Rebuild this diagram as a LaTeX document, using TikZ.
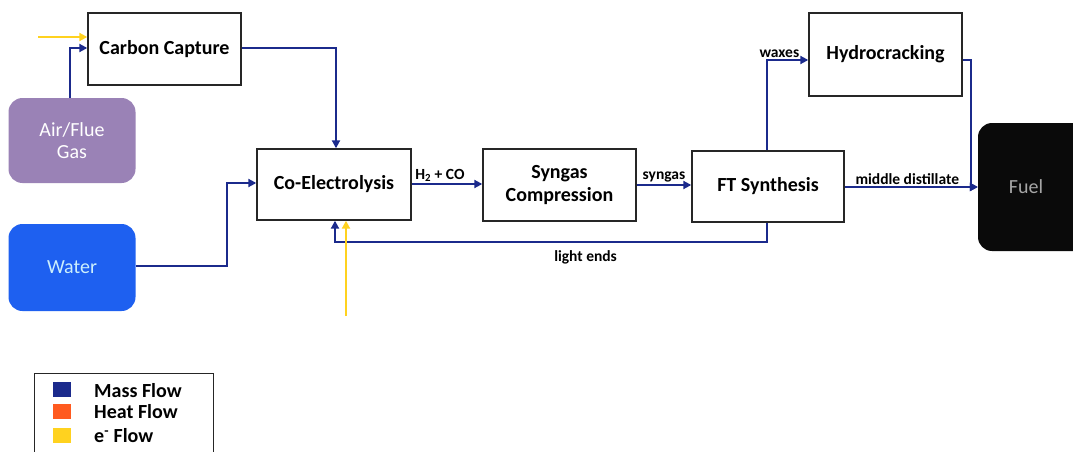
\documentclass[tikz,border=0pt]{standalone}
\usepackage{fontspec}
\setmainfont{Carlito}
\usetikzlibrary{arrows.meta}
\definecolor{mass}{HTML}{1B2A8C}
\definecolor{heat}{HTML}{FF5A1F}
\definecolor{elec}{HTML}{FFD21F}
\definecolor{airc}{HTML}{9A82B6}
\definecolor{waterc}{HTML}{1E60F0}
\definecolor{fuelc}{HTML}{0A0A0A}
\tikzset{
  proc/.style={draw=black!85, line width=1.4pt, fill=white, minimum width=#1, font=\fontsize{20}{23}\selectfont\bfseries, align=center, inner sep=0pt},
  src/.style={rounded corners=14pt, minimum width=127pt, text=white, font=\fontsize{20}{22}\selectfont, align=center, inner sep=0pt},
  mflow/.style={draw=mass, line width=2.8pt, -{Triangle[length=8pt,width=8pt]}},
  eflow/.style={draw=elec, line width=2.8pt, -{Triangle[length=8pt,width=8pt]}},
  lbl/.style={font=\fontsize{15.5}{17}\selectfont\bfseries, inner sep=1pt},
  legbox/.style={minimum width=18pt, minimum height=15pt, inner sep=0pt},
  legtxt/.style={anchor=west, font=\fontsize{20}{22}\selectfont\bfseries, inner sep=0pt}
}
\begin{document}
\begin{tikzpicture}[x=1pt,y=-1pt]
\useasboundingbox[fill=white] (0,0) rectangle (1073,452);
% boxes
\node[proc=153pt, minimum height=72pt] (cc) at (164.5,49) {Carbon Capture};
\node[proc=154pt, minimum height=71pt] (ce) at (334,184.5) {Co-Electrolysis};
\node[proc=153pt, minimum height=72pt] (sc) at (559.5,185) {Syngas\\Compression};
\node[proc=152pt, minimum height=71pt] (ft) at (768,186.5) {FT Synthesis};
\node[proc=153pt, minimum height=83pt] (hc) at (885.5,54.5) {Hydrocracking};
\node[src, fill=airc, minimum height=85pt] (air) at (72,140.5) {Air/Flue\\Gas};
\node[src, fill=waterc, minimum height=87pt, text=cyan!20] (water) at (72,267.5) {Water};
\node[src, fill=fuelc, minimum width=110pt, minimum height=128pt, text=gray!70] (fuel) at (1033,187) {\hspace*{-14pt}Fuel};
% coordinates
\coordinate (ein1) at (38,37);
\coordinate (ein2) at (346,316);
% mass flows
\draw[mflow] (air.north -| 70,0) -- (70,48) -- (cc.west |- 0,48);
\draw[mflow] (cc.east |- 0,48) -- (336,48) -- (ce.north -| 336,0);
\draw[mflow] (water.east |- 0,266) -- (227,266) -- (227,183) -- (ce.west |- 0,183);
\draw[mflow] (ce.east |- 0,184) -- node[lbl, above, pos=0.4] {H\textsubscript{2} + CO} (sc.west |- 0,184);
\draw[mflow] (sc.east |- 0,185) -- node[lbl, above] {syngas} (ft.west |- 0,185);
\draw[mflow] (ft.north -| 767,0) -- (767,60) -- node[lbl, above, pos=0.3] {waxes} (hc.west |- 0,60);
\draw[mflow] (ft.east |- 0,187) -- node[lbl, above, pos=0.47] {middle distillate} (fuel.west |- 0,187);
\draw[mflow] (hc.east |- 0,60) -- (971,60) -- (971,187) -- (fuel.west |- 0,187);
\draw[mflow] (ft.south -| 767,0) -- (767,242) -- node[lbl, below=6pt, pos=0.42] {light ends} (335,242) -- (ce.south -| 335,0);
% electricity
\draw[eflow] (ein1) -- (cc.west |- ein1);
\draw[eflow] (ein2) -- (ce.south -| ein2);
% legend
\node[draw=black!85, line width=1pt, minimum width=179pt, minimum height=80pt, inner sep=0pt] (leg) at (123.5,413) {};
\node[legbox, fill=mass] (lm) at (62,389.5) {};
\node[legbox, fill=heat] (lh) at (62,411) {};
\node[legbox, fill=elec] (le) at (62,435.5) {};
\node[legtxt] (tm) at (94,391) {Mass Flow};
\node[legtxt] (th) at (94,412) {Heat Flow};
\node[legtxt] (te) at (94,436) {e\textsuperscript{-} Flow};
\end{tikzpicture}
\end{document}
